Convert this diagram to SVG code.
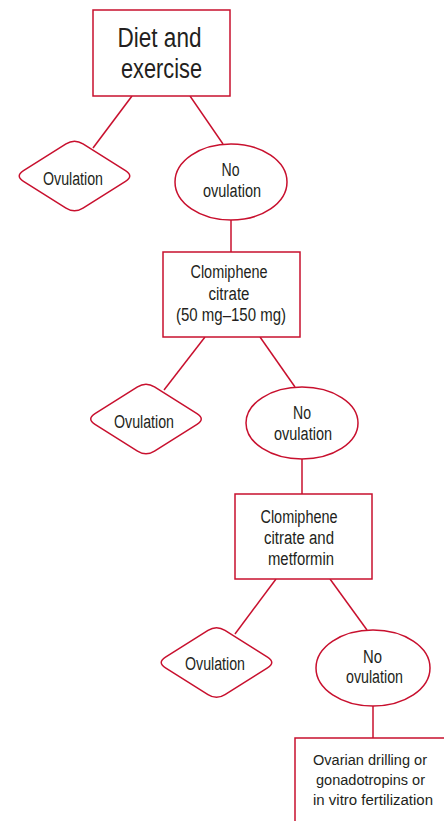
<svg xmlns="http://www.w3.org/2000/svg" width="444" height="821" viewBox="0 0 444 821">
<defs>
<style>
.n{fill:#fff;stroke:#c8102e;stroke-width:1.5}
.c line{stroke:#c8102e;stroke-width:1.5}
text{font-family:"Liberation Sans",Arial,sans-serif;fill:#231f20;text-anchor:middle;font-size:18px}
.big{font-size:27px}
.sm{font-size:15.5px}
</style>
<path id="dia" d="M-51,-5.3 L-8.5,-32.2 Q0,-37.5 8.5,-32.2 L51,-5.3 Q59.5,0 51,5.3 L8.5,32.2 Q0,37.5 -8.5,32.2 L-51,5.3 Q-59.5,0 -51,-5.3 Z"/>
</defs>
<rect width="444" height="821" fill="#fff"/>
<g class="c" id="connectors">
<line x1="132" y1="96" x2="93" y2="148"/>
<line x1="190" y1="96" x2="223" y2="144"/>
<line x1="231" y1="220" x2="231" y2="252"/>
<line x1="205" y1="337" x2="164" y2="390"/>
<line x1="260" y1="337" x2="295" y2="387"/>
<line x1="302" y1="459" x2="302" y2="494"/>
<line x1="276" y1="579" x2="235" y2="634"/>
<line x1="330" y1="579" x2="367" y2="630"/>
<line x1="373" y1="706" x2="373" y2="738"/>
</g>
<g id="diet">
<rect class="n" x="93" y="10" width="137" height="86"/>
<text class="big" x="159.5" y="47" textLength="84" lengthAdjust="spacingAndGlyphs">Diet and</text>
<text class="big" x="161.5" y="78" textLength="81" lengthAdjust="spacingAndGlyphs">exercise</text>
</g>
<g id="ov1">
<use href="#dia" class="n" transform="translate(74.5,176)"/>
<text x="73" y="185" textLength="60" lengthAdjust="spacingAndGlyphs">Ovulation</text>
</g>
<g id="noov1">
<ellipse class="n" cx="231" cy="182" rx="56" ry="38"/>
<text x="230.5" y="176" textLength="18" lengthAdjust="spacingAndGlyphs">No</text>
<text x="232" y="197" textLength="58" lengthAdjust="spacingAndGlyphs">ovulation</text>
</g>
<g id="clomiphene">
<rect class="n" x="163" y="252" width="137" height="85"/>
<text x="229" y="278" textLength="77" lengthAdjust="spacingAndGlyphs">Clomiphene</text>
<text x="229" y="300" textLength="41" lengthAdjust="spacingAndGlyphs">citrate</text>
<text x="231" y="321" textLength="110" lengthAdjust="spacingAndGlyphs">(50 mg–150 mg)</text>
</g>
<g id="ov2">
<use href="#dia" class="n" transform="translate(146,419)"/>
<text x="144" y="428" textLength="60" lengthAdjust="spacingAndGlyphs">Ovulation</text>
</g>
<g id="noov2">
<ellipse class="n" cx="302" cy="423" rx="56" ry="36"/>
<text x="302" y="419" textLength="18" lengthAdjust="spacingAndGlyphs">No</text>
<text x="303" y="440" textLength="58" lengthAdjust="spacingAndGlyphs">ovulation</text>
</g>
<g id="clomet">
<rect class="n" x="235" y="494" width="137" height="85"/>
<text x="299" y="523" textLength="77" lengthAdjust="spacingAndGlyphs">Clomiphene</text>
<text x="299" y="544" textLength="70" lengthAdjust="spacingAndGlyphs">citrate and</text>
<text x="301" y="565" textLength="66" lengthAdjust="spacingAndGlyphs">metformin</text>
</g>
<g id="ov3">
<use href="#dia" class="n" transform="translate(216.5,662.5)"/>
<text x="215" y="670" textLength="60" lengthAdjust="spacingAndGlyphs">Ovulation</text>
</g>
<g id="noov3">
<ellipse class="n" cx="373" cy="668" rx="57" ry="38"/>
<text x="372.5" y="663" textLength="19" lengthAdjust="spacingAndGlyphs">No</text>
<text x="374.5" y="683" textLength="57" lengthAdjust="spacingAndGlyphs">ovulation</text>
</g>
<g id="final">
<path class="n" d="M444,738 H295 V821"/>
<text class="sm" x="370" y="765" textLength="114" lengthAdjust="spacingAndGlyphs">Ovarian drilling or</text>
<text class="sm" x="370.5" y="785" textLength="109" lengthAdjust="spacingAndGlyphs">gonadotropins or</text>
<text class="sm" x="373" y="805" textLength="120" lengthAdjust="spacingAndGlyphs">in vitro fertilization</text>
</g>
</svg>
